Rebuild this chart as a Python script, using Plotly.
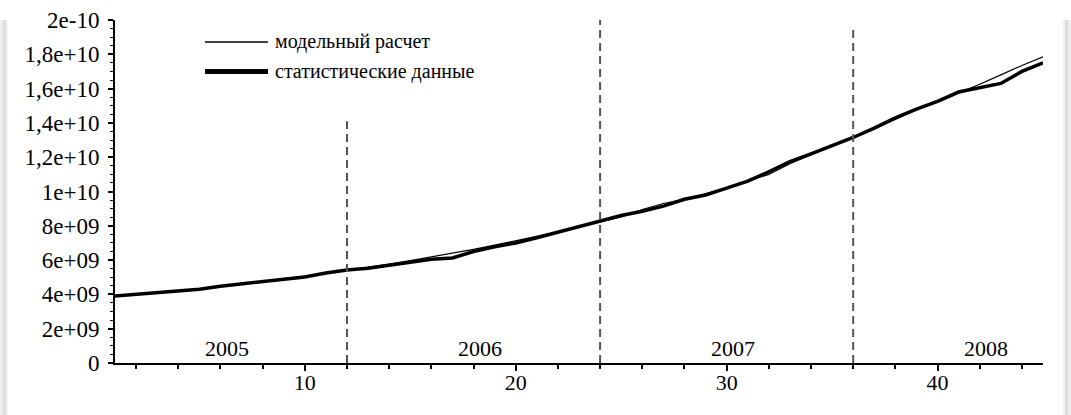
import plotly.graph_objects as go

# Monthly index (1 = January 2005)
months = list(range(1, 46))

# Values, billions
model_calc = [3.90, 4.00, 4.10, 4.21, 4.33, 4.47, 4.61, 4.75, 4.90, 5.06,
              5.23, 5.40, 5.58, 5.77, 5.97, 6.18, 6.40, 6.63, 6.87, 7.12,
              7.38, 7.65, 7.93, 8.22, 8.52, 8.95, 9.30, 9.55, 9.86, 10.22,
              10.60, 11.00, 11.62, 12.15, 12.65, 13.15, 13.65, 14.20, 14.75, 15.25,
              15.75, 16.25, 16.80, 17.35, 17.85]
stat_data = [3.90, 4.00, 4.08, 4.18, 4.30, 4.48, 4.62, 4.75, 4.88, 5.02,
             5.25, 5.42, 5.52, 5.70, 5.90, 6.05, 6.12, 6.50, 6.78, 7.00,
             7.30, 7.62, 7.95, 8.28, 8.60, 8.85, 9.15, 9.55, 9.80, 10.20,
             10.60, 11.15, 11.75, 12.20, 12.65, 13.15, 13.70, 14.30, 14.80, 15.25,
             15.80, 16.05, 16.30, 17.00, 17.50]

# Year boundaries (dashed) and their heights, billions
year_bounds = [12, 24, 36]
bound_tops = [14.1, 20.0, 19.7]

# Year captions
years = ["2005", "2006", "2007", "2008"]
year_pos = [6.3, 18.3, 30.3, 42.3]

y_tickvals = [0, 2e9, 4e9, 6e9, 8e9, 1e10, 1.2e10, 1.4e10, 1.6e10, 1.8e10, 2e10]
y_ticktext = ["0", "2e+09", "4e+09", "6e+09", "8e+09", "1e+10", "1,2e+10",
              "1,4e+10", "1,6e+10", "1,8e+10", "2e-10"]
x_tickvals = [10, 20, 30, 40]

legend_names = ["модельный расчет", "статистические данные"]

FONT = "Liberation Serif"

fig = go.Figure()
fig.add_trace(go.Scatter(x=months, y=[v * 1e9 for v in stat_data], mode="lines",
                         line=dict(color="black", width=3.5), name=legend_names[1],
                         showlegend=False))
fig.add_trace(go.Scatter(x=months, y=[v * 1e9 for v in model_calc], mode="lines",
                         line=dict(color="black", width=1.2), name=legend_names[0],
                         showlegend=False))

shapes = []
for xb, top in zip(year_bounds, bound_tops):
    shapes.append(dict(type="line", xref="x", yref="y", x0=xb, x1=xb, y0=0, y1=top * 1e9,
                       line=dict(color="#555555", width=2, dash="8px,5px"), layer="above"))

# Legend samples drawn in paper space
W, H = 1071, 415
ML, MR, MT, MB = 115, 28, 20, 52
pw, ph = W - ML - MR, H - MT - MB


def px_x(p):
    return (p - ML) / pw


def px_y(p):
    return 1 - (p - MT) / ph


shapes.append(dict(type="line", xref="paper", yref="paper", x0=px_x(205), x1=px_x(268),
                   y0=px_y(42), y1=px_y(42), line=dict(color="black", width=1.5)))
shapes.append(dict(type="line", xref="paper", yref="paper", x0=px_x(205), x1=px_x(268),
                   y0=px_y(71.5), y1=px_y(71.5), line=dict(color="black", width=5)))

# Card edge shading
for x0, x1, c in [(0, 3, "#eeeeee"), (3, 6, "#dddddd"), (6, 8, "#f0f0f0"),
                  (1063, 1065, "#f0f0f0"), (1065, 1068, "#dddddd"), (1068, 1071, "#eeeeee")]:
    shapes.append(dict(type="rect", xref="paper", yref="paper", x0=px_x(x0), x1=px_x(x1),
                       y0=px_y(415), y1=px_y(20), fillcolor=c, line=dict(width=0),
                       layer="below"))

annotations = []
for name, yp in zip(legend_names, [42, 71.5]):
    annotations.append(dict(x=px_x(273), y=px_y(yp), xref="paper", yref="paper", text=name,
                            showarrow=False, xanchor="left", yanchor="middle",
                            font=dict(family=FONT, size=20, color="black")))
for txt, xp in zip(years, year_pos):
    annotations.append(dict(x=xp, y=0.82e9, xref="x", yref="y", text=txt, showarrow=False,
                            xanchor="center", yanchor="middle",
                            font=dict(family=FONT, size=22, color="black")))

fig.update_layout(
    width=W, height=H,
    margin=dict(l=ML, r=MR, t=MT, b=MB, autoexpand=False),
    paper_bgcolor="white", plot_bgcolor="white",
    font=dict(family=FONT, size=22, color="black"),
    shapes=shapes, annotations=annotations,
    xaxis=dict(range=[1, 45], tickmode="array", tickvals=x_tickvals,
               ticktext=[str(v) for v in x_tickvals], ticks="outside", ticklen=6,
               tickwidth=1.5, tickcolor="black", showline=True, linecolor="black",
               linewidth=2, showgrid=False, zeroline=False, ticklabelstandoff=-7,
               automargin=False, tickfont=dict(family=FONT, size=22, color="black"),
               minor=dict(dtick=2, tick0=0, ticks="outside", ticklen=4, tickwidth=1.5,
                          tickcolor="black", showgrid=False)),
    yaxis=dict(range=[0, 2e10], tickmode="array", tickvals=y_tickvals, ticktext=y_ticktext,
               ticks="outside", ticklen=5, tickwidth=1.5, tickcolor="black", showline=True,
               linecolor="black", linewidth=2, showgrid=False, zeroline=False,
               ticklabelstandoff=4, automargin=False,
               tickfont=dict(family=FONT, size=23, color="black"),
               minor=dict(dtick=5e8, tick0=0, ticks="outside", ticklen=3, tickwidth=1.2,
                          tickcolor="black", showgrid=False)),
)

fig.write_html("out.html")
